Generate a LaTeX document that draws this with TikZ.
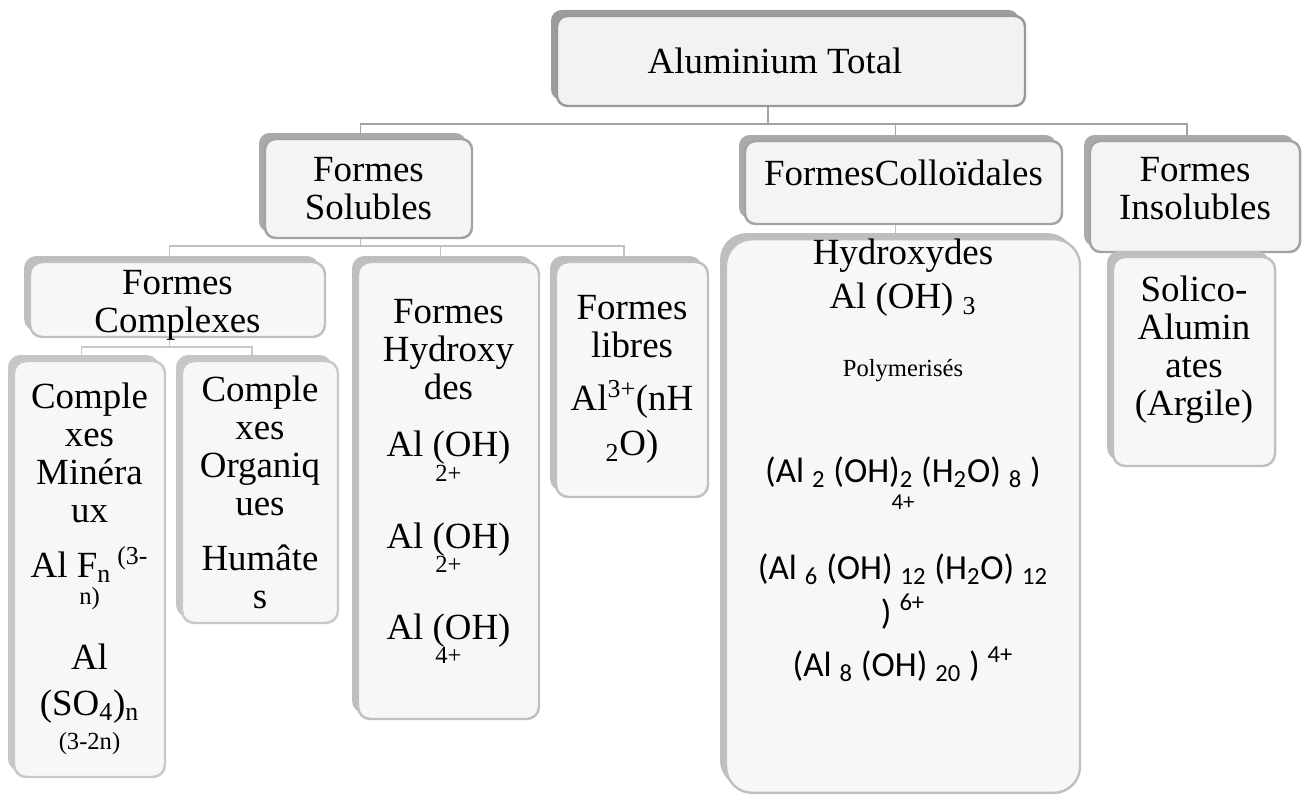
\documentclass[tikz,border=0pt]{standalone}
\usepackage{fontspec}
\setmainfont{Liberation Serif}
\newfontfamily\calibri{Carlito}
\usetikzlibrary{shadows,backgrounds}

\definecolor{ombreA}{HTML}{9C9C9C}
\definecolor{ombreB}{HTML}{AAAAAA}
\definecolor{ombreC}{HTML}{BEBEBE}
\definecolor{ombreD}{HTML}{C6C6C6}
\definecolor{bordA}{HTML}{999999}
\definecolor{bordB}{HTML}{A3A3A3}
\definecolor{bordC}{HTML}{C0C0C0}
\definecolor{bordD}{HTML}{C8C8C8}
\definecolor{fondA}{HTML}{F2F2F2}
\definecolor{fondB}{HTML}{F4F4F4}
\definecolor{fondC}{HTML}{F7F7F7}

\newcommand{\grand}{\fontsize{21}{21.6}\selectfont\lineskiplimit=-100pt\lineskip=0pt\relax}
\newcommand{\petit}{\fontsize{14}{14}\selectfont}
\newcommand{\moyen}{\fontsize{20}{21.6}\selectfont\calibri}
\newcommand{\petitc}{\fontsize{13}{14}\selectfont\calibri}
\newcommand{\haute}[1]{\rule{0pt}{#1}}
\newcommand{\basse}[1]{\rule[-#1]{0pt}{#1}}

\begin{document}
\begin{tikzpicture}[x=0.02cm,y=-0.02cm,
  boite/.style={rectangle,rounded corners=6pt,line width=1.4pt,inner sep=0pt,align=center,font=\grand},
  taille/.style 2 args={minimum width=#1*0.02cm,minimum height=#2*0.02cm},
  niv1/.style={boite,draw=bordA,fill=fondA,drop shadow={shadow xshift=-0.12cm,shadow yshift=0.12cm,fill=ombreA,opacity=1}},
  niv2/.style={boite,draw=bordB,fill=fondB,drop shadow={shadow xshift=-0.12cm,shadow yshift=0.12cm,fill=ombreB,opacity=1}},
  niv3/.style={boite,draw=bordC,fill=fondC,rounded corners=7pt,drop shadow={shadow xshift=-0.12cm,shadow yshift=0.12cm,fill=ombreC,opacity=1}},
  niv4/.style={boite,draw=bordD,fill=fondC,rounded corners=7pt,drop shadow={shadow xshift=-0.12cm,shadow yshift=0.12cm,fill=ombreD,opacity=1}},
  lien/.style={line width=1.1pt,transform canvas={xshift=-0.16cm}},
  lien1/.style={lien,draw=bordB},
  lien2/.style={lien,draw=bordC},
  lien3/.style={lien,draw=bordD}]
  \useasboundingbox (0,0) rectangle (1304,794);

  \node[niv1,taille={468}{90}] (total) at (791,61) {Aluminium Total\hspace*{0.64cm}};

  \node[niv2,taille={207}{99}] (sol) at (368.5,188.5) {Formes\\Solubles};
  \node[niv2,taille={317}{83}] (coll) at (903.5,182.5) {FormesColloïdales\basse{11.4pt}};
  \node[niv2,taille={210}{111}] (insol) at (1195,196.5) {Formes\\Insolubles\basse{9.1pt}};

  \node[niv3,taille={295}{75}] (cplx) at (177.5,299.5) {\haute{15.4pt}Formes\\\smash{Complexes}};
  \node[niv3,taille={181}{457}] (hydr) at (448.5,490.5) {Formes\\Hydroxy\\des\\[10.8pt]Al (OH)\\[-7.4pt]{\petit 2+}\\[16.5pt]Al (OH)\\[-7.4pt]{\petit 2+}\\[16pt]Al (OH)\\[-7.4pt]{\petit 4+}\basse{10.2pt}};
  \node[niv3,taille={152}{235}] (libr) at (632,379.5) {Formes\\libres\\[8.5pt]Al\textsuperscript{3+}(nH\\[4pt]\textsubscript{2}O)};
  \node[niv3,rounded corners=15pt,taille={354}{552}] (hydc) at (903,516) {Hydroxydes\\[3.4pt]Al (OH) \textsubscript{3}\\[17pt]{\petit Polymerisés}\\[38.7pt]{\moyen (Al \textsubscript{2} (OH)\textsubscript{2} (H\textsubscript{2}O) \textsubscript{8} )}\\[-6.3pt]{\petitc 4+}\\[18.2pt]{\moyen (Al \textsubscript{6} (OH) \textsubscript{12} (H\textsubscript{2}O) \textsubscript{12}}\\[4pt]{\moyen ) \textsuperscript{6+}}\\[8pt]{\moyen (Al \textsubscript{8} (OH) \textsubscript{20} ) \textsuperscript{4+}}\\[44.8pt]\mbox{}};
  \node[niv3,taille={162}{209}] (silic) at (1194,361.5) {Solico-\\Alumin\\ates\\(Argile)\basse{18.2pt}};

  \node[niv4,taille={151}{416}] (cmin) at (89.5,569) {Comple\\xes\\Minéra\\ux\\[9.7pt]Al F\textsubscript{n}\,\textsuperscript{(3-}\\[-6.3pt]{\petit n)}\\[15.4pt]Al\\[4.6pt](SO\textsubscript{4})\textsubscript{n}\\[-2pt]{\petit (3-2n)}};
  \node[niv4,taille={156}{262}] (corg) at (260,492) {Comple\\xes\\Organiq\\ues\\[9.7pt]Humâte\\s};

  \begin{scope}[on background layer]
    \draw[lien1] ([xshift=-0.3cm]total.south) -- ++(0,17) coordinate (busA);
    \draw[lien1] (sol.north) |- (busA) -| (insol.north);
    \draw[lien1] (coll.north) -- (coll.north |- busA);
    \draw[lien2] (sol.south) -- ++(0,7) coordinate (busB);
    \draw[lien2] (cplx.north) |- (busB) -| (libr.north);
    \draw[lien2] (hydr.north) -- (hydr.north |- busB);
    \draw[lien2] (coll.south) -- (coll.south |- hydc.north);
    \draw[lien2] (insol.south) -- (insol.south |- silic.north);
    \draw[lien3] (cplx.south) -- ++(0,9) coordinate (busC);
    \draw[lien3] (cmin.north) |- (busC) -| (corg.north);
  \end{scope}
\end{tikzpicture}
\end{document}
